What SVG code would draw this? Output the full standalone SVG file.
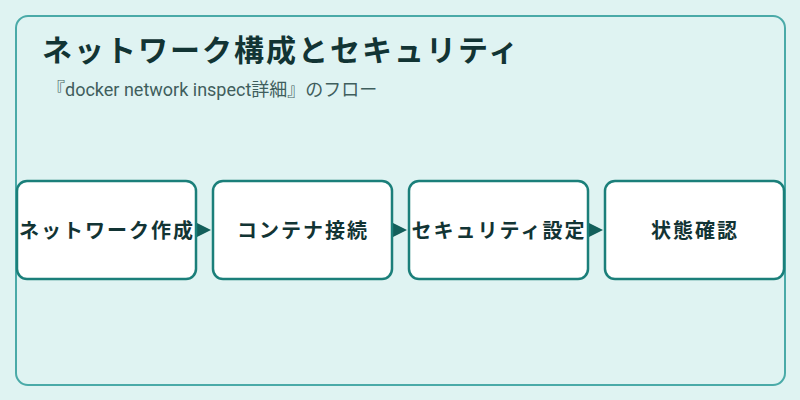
<svg xmlns="http://www.w3.org/2000/svg" width="800" height="400" viewBox="0 0 800 400">
<defs>
<style>
.node rect{fill:#ffffff;stroke:#1b7f7a;stroke-width:2.5}
.node text{font-family:"Noto Sans CJK JP","Noto Sans",sans-serif;font-weight:700;font-size:20px;fill:#123434;text-anchor:middle;letter-spacing:2px}
.arrow{fill:#135f5b}
</style>
</defs>
<rect x="0" y="0" width="800" height="400" fill="#dff3f2"/>
<rect x="16" y="16" width="769" height="369" rx="12" fill="#dff3f2" stroke="#4aaaa8" stroke-width="2"/>
<text x="42" y="61" font-family="'Noto Sans CJK JP','Noto Sans',sans-serif" font-weight="700" font-size="30" letter-spacing="2" fill="#123434">ネットワーク構成とセキュリティ</text>
<text x="47" y="96" font-family="Roboto,'Noto Sans CJK JP',sans-serif" font-size="18" fill="#3f5e5d">『docker network inspect詳細』のフロー</text>
<g id="connectors">
<polygon class="arrow" points="197,223 211,230 197,237"/>
<polygon class="arrow" points="393,223 407,230 393,237"/>
<polygon class="arrow" points="589,223 603,230 589,237"/>
</g>
<g id="node1" class="node"><rect x="17" y="181" width="179" height="98" rx="10"/><text x="107" y="238">ネットワーク作成</text></g>
<g id="node2" class="node"><rect x="213" y="181" width="179" height="98" rx="10"/><text x="303" y="238">コンテナ接続</text></g>
<g id="node3" class="node"><rect x="409" y="181" width="179" height="98" rx="10"/><text x="499" y="238">セキュリティ設定</text></g>
<g id="node4" class="node"><rect x="605" y="181" width="179" height="98" rx="10"/><text x="695" y="238">状態確認</text></g>
</svg>
